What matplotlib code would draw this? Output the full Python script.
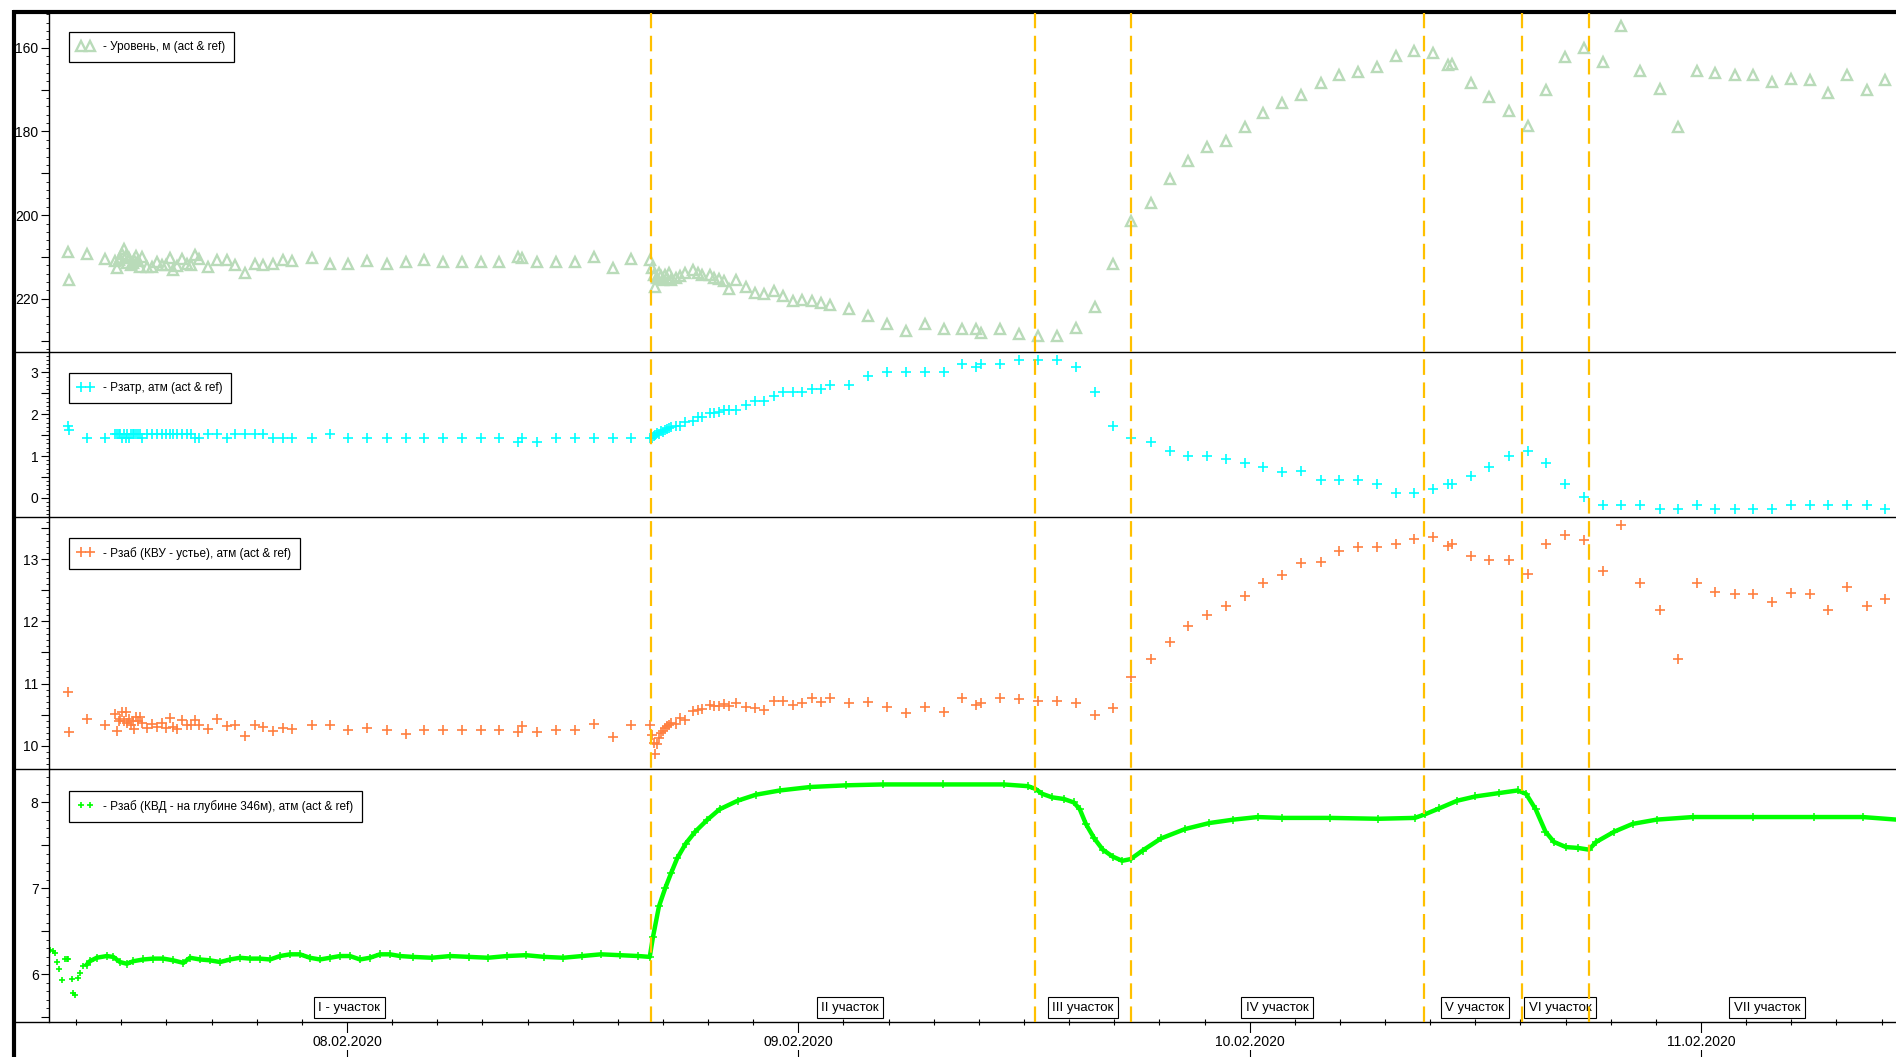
import numpy as np
import pandas as pd
import matplotlib
matplotlib.use('Agg')
import matplotlib.pyplot as plt
import matplotlib.dates as mdates
import matplotlib.transforms as mtransforms
from matplotlib.ticker import MultipleLocator, FuncFormatter
from matplotlib.lines import Line2D

plt.rcParams['font.family'] = ['Liberation Sans', 'DejaVu Sans']

t0 = pd.Timestamp('2020-02-07 00:00')

# measurement times, hours since 07.02.2020 00:00 (common for level / Pzatr / Pzab KVU)
meas_hours = [9.14, 9.20, 10.16, 11.15,
              11.66, 11.75, 11.85, 11.94, 12.04, 12.13, 12.23, 12.32, 12.42, 12.51, 12.61, 12.70, 12.80, 12.89, 12.98,
              13.10, 13.35, 13.61, 13.88, 14.15, 14.36, 14.59, 14.76, 14.94, 15.24, 15.48, 15.69,
              15.92, 16.13, 16.59, 17.07, 17.60, 18.04, 18.58, 19.11, 19.55, 20.08, 20.58, 21.06,
              22.12, 23.10, 24.07, 25.05, 26.11, 27.12, 28.10, 29.08, 30.14, 31.11,
              32.09, 33.10, 33.31, 34.13, 35.14, 36.12, 37.12, 38.12, 39.12,
              40.11, 40.20, 40.30, 40.40, 40.50, 40.60, 40.70, 40.80, 40.90, 41.00, 41.10, 41.22,
              41.48, 41.73, 41.99, 42.38, 42.64, 42.90, 43.28, 43.54, 43.80, 44.06, 44.31, 44.70,
              45.22, 45.68, 46.19, 46.71, 47.20, 47.72, 48.20, 48.72, 49.21, 49.70,
              50.70, 51.71, 52.71, 53.70, 54.72, 55.73, 56.73, 57.43, 57.72, 58.75,
              59.76, 60.73, 61.74, 62.74, 63.75, 64.73, 65.71,
              66.75, 67.74, 68.73, 69.71, 70.75, 71.74, 72.73, 73.74, 74.73, 75.77,
              76.76, 77.77, 78.78, 79.77, 80.75, 81.77, 82.55, 82.78, 83.77, 84.75,
              85.80, 86.80, 87.77, 88.76, 89.79, 90.78, 91.77, 92.76, 93.80, 94.78,
              95.77, 96.76, 97.80, 98.79, 99.77, 100.76, 101.79, 102.78, 103.77, 104.81, 105.80]

level = [208.8, 215.4, 209.4, 210.4,
         211.0, 212.6, 210.6, 210.2, 209.4, 208.2, 209.8, 211.4, 210.2, 211.8, 211.4, 210.6, 209.8, 211.0, 212.4,
         210.0, 212.4, 212.4, 211.2, 211.8, 211.8, 210.2, 213.0, 212.2, 210.4, 211.6, 211.8,
         209.6, 210.4, 212.4, 210.6, 210.6, 211.8, 213.8, 211.6, 212.0, 211.6, 210.8, 211.0,
         210.2, 211.6, 211.6, 211.0, 211.6, 211.1, 210.8, 211.1, 211.1, 211.1,
         211.1, 209.9, 210.2, 211.1, 211.1, 211.1, 209.9, 212.6, 210.5,
         210.6, 212.6, 214.2, 217.2, 215.0, 213.8, 214.6, 215.4, 214.2, 215.0, 213.8, 215.4,
         215.0, 214.6, 213.8, 213.0, 213.8, 214.2, 214.4, 214.9, 215.2, 215.8, 217.6, 215.4,
         217.2, 218.6, 218.8, 218.2, 219.4, 220.4, 220.2, 220.4, 221.0, 221.4,
         222.4, 224.2, 226.0, 227.6, 226.0, 227.2, 227.2, 227.2, 228.2, 227.2,
         228.4, 228.8, 228.8, 227.0, 222.0, 211.7, 201.4,
         197.0, 191.4, 187.0, 183.7, 182.2, 179.0, 175.6, 173.3, 171.2, 168.5,
         166.6, 165.8, 164.5, 161.9, 160.8, 161.3, 164.2, 164.0, 168.5, 171.7,
         175.0, 178.6, 170.1, 162.2, 160.1, 163.4, 154.9, 165.6, 169.8, 178.9,
         165.6, 166.1, 166.6, 166.6, 168.2, 167.4, 167.7, 170.9, 166.6, 170.1, 167.7]

p_zatr = [1.71, 1.62, 1.43, 1.43,
          1.53, 1.53, 1.53, 1.53, 1.43, 1.53, 1.43, 1.53, 1.43, 1.53, 1.53, 1.53, 1.53, 1.53, 1.53,
          1.43, 1.53, 1.53, 1.53, 1.53, 1.53, 1.53, 1.53, 1.53, 1.53, 1.53, 1.53,
          1.43, 1.43, 1.53, 1.53, 1.43, 1.53, 1.53, 1.53, 1.53, 1.43, 1.43, 1.43,
          1.43, 1.53, 1.43, 1.43, 1.43, 1.43, 1.43, 1.43, 1.43, 1.43,
          1.43, 1.33, 1.43, 1.33, 1.43, 1.43, 1.43, 1.43, 1.43,
          1.43, 1.43, 1.48, 1.50, 1.55, 1.53, 1.60, 1.58, 1.63, 1.65, 1.68, 1.70,
          1.72, 1.72, 1.81, 1.85, 1.93, 1.93, 2.03, 2.03, 2.05, 2.09, 2.11, 2.11,
          2.21, 2.31, 2.31, 2.43, 2.53, 2.53, 2.53, 2.61, 2.61, 2.71,
          2.71, 2.91, 3.02, 3.02, 3.02, 3.02, 3.21, 3.13, 3.21, 3.21,
          3.31, 3.31, 3.31, 3.13, 2.53, 1.72, 1.43,
          1.33, 1.12, 1.01, 1.01, 0.93, 0.83, 0.73, 0.62, 0.63, 0.43,
          0.43, 0.43, 0.33, 0.12, 0.12, 0.22, 0.33, 0.33, 0.51, 0.73,
          1.01, 1.12, 0.83, 0.33, 0.02, -0.17, -0.17, -0.17, -0.26, -0.26,
          -0.17, -0.26, -0.26, -0.26, -0.26, -0.17, -0.17, -0.17, -0.17, -0.17, -0.26]

p_zab_kvu = [10.87, 10.22, 10.43, 10.34,
             10.51, 10.24, 10.39, 10.43, 10.54, 10.39, 10.54, 10.36, 10.43, 10.34, 10.40, 10.27, 10.46, 10.40, 10.46,
             10.36, 10.29, 10.35, 10.30, 10.36, 10.29, 10.45, 10.30, 10.27, 10.41, 10.34, 10.34,
             10.41, 10.34, 10.27, 10.43, 10.32, 10.34, 10.15, 10.34, 10.30, 10.24, 10.29, 10.27,
             10.34, 10.34, 10.25, 10.29, 10.25, 10.19, 10.25, 10.25, 10.25, 10.25,
             10.25, 10.22, 10.32, 10.22, 10.25, 10.25, 10.35, 10.14, 10.33,
             10.33, 10.18, 10.05, 9.86, 10.02, 10.12, 10.20, 10.24, 10.28, 10.31, 10.34, 10.37,
             10.35, 10.45, 10.42, 10.56, 10.57, 10.59, 10.65, 10.64, 10.64, 10.67, 10.64, 10.69,
             10.63, 10.61, 10.57, 10.72, 10.72, 10.65, 10.68, 10.76, 10.71, 10.76,
             10.69, 10.71, 10.63, 10.53, 10.63, 10.55, 10.76, 10.65, 10.68, 10.76,
             10.75, 10.72, 10.72, 10.69, 10.50, 10.61, 11.10,
             11.39, 11.67, 11.92, 12.11, 12.25, 12.41, 12.62, 12.74, 12.94, 12.96,
             13.13, 13.20, 13.20, 13.24, 13.32, 13.36, 13.21, 13.25, 13.06, 12.99,
             12.99, 12.76, 13.24, 13.39, 13.31, 12.81, 13.55, 12.62, 12.18, 11.39,
             12.62, 12.47, 12.44, 12.44, 12.32, 12.46, 12.44, 12.18, 12.55, 12.25, 12.36]

# KVD gauge: scattered start, then continuous record
kvd_early_hours = [8.21, 8.35, 8.47, 8.60, 8.70, 8.83, 9.00, 9.09, 9.18, 9.36, 9.45, 9.54, 9.71, 9.80, 9.95]
kvd_early = [6.28, 6.27, 6.25, 6.14, 6.06, 5.93, 6.18, 6.18, 6.18, 5.94, 5.78, 5.76, 5.95, 6.01, 6.09]

kvd_hours = [10.16, 10.33, 10.69, 11.22, 11.57, 11.93, 12.29, 12.64, 13.17, 13.70,
             14.23, 14.76, 15.30, 15.65, 16.18, 16.71, 17.25, 17.78, 18.31, 18.84,
             19.37, 19.91, 20.44, 20.97, 21.50, 22.03, 22.56, 23.10, 23.63, 24.16,
             24.69, 25.22, 25.75, 26.29, 26.82, 27.5, 28.5, 29.5, 30.5, 31.5,
             32.5, 33.5, 34.5, 35.5, 36.5, 37.5, 38.5, 39.5, 40.10,
             40.27, 40.59, 40.92, 41.24, 41.56, 42.01, 42.52, 43.17, 43.81, 44.77,
             45.74, 47.02, 48.63, 50.56, 52.49, 55.70, 58.92, 60.21, 60.59, 60.98,
             61.49, 62.13, 62.65, 62.97, 63.29, 63.74, 64.19, 64.71, 65.22, 65.67,
             66.31, 67.28, 68.56, 69.85, 71.14, 72.42, 73.71, 76.28, 78.85, 80.78,
             81.30, 82.07, 83.03, 84.00, 85.28, 86.25, 86.70, 87.21, 87.73, 88.18,
             88.82, 89.46, 90.04, 90.43, 91.39, 92.36, 93.64, 95.57, 98.79, 102.00,
             104.60, 106.40]
kvd = [6.11, 6.15, 6.19, 6.21, 6.20, 6.14, 6.12, 6.15, 6.17, 6.18,
       6.18, 6.16, 6.13, 6.19, 6.17, 6.16, 6.14, 6.17, 6.19, 6.18,
       6.18, 6.17, 6.21, 6.23, 6.23, 6.19, 6.17, 6.19, 6.21, 6.21,
       6.17, 6.19, 6.23, 6.23, 6.21, 6.20, 6.19, 6.21, 6.20, 6.19,
       6.21, 6.22, 6.20, 6.19, 6.21, 6.23, 6.22, 6.21, 6.20,
       6.43, 6.79, 7.00, 7.18, 7.35, 7.52, 7.66, 7.80, 7.92, 8.02,
       8.09, 8.14, 8.18, 8.20, 8.21, 8.21, 8.21, 8.19, 8.16, 8.10,
       8.06, 8.04, 8.00, 7.92, 7.75, 7.58, 7.45, 7.37, 7.32, 7.34,
       7.44, 7.58, 7.69, 7.76, 7.80, 7.83, 7.82, 7.82, 7.81, 7.82,
       7.86, 7.93, 8.02, 8.07, 8.11, 8.14, 8.10, 7.92, 7.66, 7.54,
       7.48, 7.47, 7.45, 7.54, 7.66, 7.75, 7.80, 7.83, 7.83, 7.83,
       7.83, 7.80]

bounds_hours = [40.14, 60.58, 65.67, 81.27, 86.48, 90.04]
section_names = ['I - участок', 'II участок', 'III участок', 'IV участок',
                 'V участок', 'VI участок', 'VII участок']
section_hours = [24.13, 50.75, 63.14, 73.45, 83.98, 88.50, 99.50]

legend_labels = ['- Уровень, м (act & ref)',
                 '- Рзатр, атм (act & ref)',
                 '- Рзаб (КВУ - устье), атм (act & ref)',
                 '- Рзаб (КВД - на глубине 346м), атм (act & ref)']


def to_time(hours):
    return (t0 + pd.to_timedelta(np.asarray(hours, dtype=float), unit='h')).to_numpy()


c_level = '#b9dbb9'
c_zatr = '#00ffff'
c_kvu = '#ff7f40'
c_kvd = '#00ff00'
c_bound = '#ffc000'

W, H = 1896, 1057
fig = plt.figure(figsize=(W / 100, H / 100), dpi=100)
left_px = 49
panels_px = [(13, 352), (352, 517), (517, 769), (769, 1021.5)]
axes = []
for top, bot in panels_px:
    ax = fig.add_axes([left_px / W, 1 - bot / H, 1 - left_px / W, (bot - top) / H])
    axes.append(ax)
ax1, ax2, ax3, ax4 = axes

t_meas = to_time(meas_hours)
ax1.plot(t_meas, level, ls='none', marker='^', ms=7.5, mfc='none', mec=c_level, mew=1.7)
ax2.plot(t_meas, p_zatr, ls='none', marker='+', ms=7, color=c_zatr, mew=1.2)
ax3.plot(t_meas, p_zab_kvu, ls='none', marker='+', ms=7, color=c_kvu, mew=1.2)
ax4.plot(to_time(kvd_early_hours), kvd_early, ls='none', marker='+', ms=5, color=c_kvd, mew=1.2)
ax4.plot(to_time(kvd_hours), kvd, color=c_kvd, lw=3.2, marker='+', ms=6, mew=1.1)

ylims = [(232.7, 151.7), (-0.46, 3.49), (9.625, 13.68), (5.447, 8.39)]
steps = [(10, 20, 2), (0.5, 1, 0.1), (0.5, 1, 0.1), (0.5, 1, 0.1)]
xlim = to_time([8.154, 106.37])

for ax, yl, (maj, lab, mnr) in zip(axes, ylims, steps):
    ax.set_xlim(xlim)
    ax.set_ylim(yl)
    ax.yaxis.set_major_locator(MultipleLocator(maj))
    ax.yaxis.set_minor_locator(MultipleLocator(mnr))
    ax.yaxis.set_major_formatter(FuncFormatter(
        lambda v, p, lab=lab: f'{v:g}' if abs(v / lab - round(v / lab)) < 1e-6 else ''))
    ax.tick_params(axis='y', which='major', direction='out', length=6, width=0.8,
                   pad=1.5, labelsize=10)
    ax.tick_params(axis='y', which='minor', direction='out', length=2, width=0.6)
    for s in ['top', 'right', 'bottom']:
        ax.spines[s].set_visible(False)
    ax.spines['left'].set_linewidth(1.0)
    ax.set_facecolor('none')
    if ax is not ax4:
        ax.tick_params(axis='x', which='both', bottom=False, labelbottom=False)

ax4.xaxis.set_major_locator(mdates.DayLocator())
ax4.xaxis.set_major_formatter(mdates.DateFormatter('%d.%m.%Y'))
ax4.xaxis.set_minor_locator(MultipleLocator(0.1))
ax4.tick_params(axis='x', which='major', direction='out', length=26, width=0.8,
                pad=-16.5, labelsize=10)
ax4.tick_params(axis='x', which='minor', direction='inout', length=5, width=0.8)
for lbl in ax4.get_xticklabels():
    lbl.set_bbox(dict(facecolor='white', edgecolor='none', pad=1))

# frame and panel separators
frame_kw = dict(transform=fig.transFigure, color='black', solid_capstyle='butt')
fig.add_artist(Line2D([13 / W, 1], [1 - 12 / H, 1 - 12 / H], lw=3, **frame_kw))
fig.add_artist(Line2D([13.5 / W, 13.5 / W], [0, 1 - 10 / H], lw=3, **frame_kw))
for _, bot in panels_px:
    fig.add_artist(Line2D([13 / W, 1], [1 - bot / H, 1 - bot / H], lw=1.0, **frame_kw))

# section boundaries across all panels
trans = mtransforms.blended_transform_factory(ax4.transData, fig.transFigure)
for bx in mdates.date2num(to_time(bounds_hours)):
    fig.add_artist(Line2D([bx, bx], [1 - 1021.5 / H, 1 - 13 / H], transform=trans,
                          color=c_bound, lw=1.6, dashes=(7, 3.4)))

for name, sx in zip(section_names, to_time(section_hours)):
    ax4.text(sx, 5.61, name, ha='center', va='center', fontsize=9.5,
             bbox=dict(boxstyle='square,pad=0.35', facecolor='white', edgecolor='black', linewidth=0.8))

handles = [
    Line2D([], [], ls='none', marker='^', ms=7.5, mfc='none', mec=c_level, mew=1.7),
    Line2D([], [], ls='none', marker='+', ms=7, color=c_zatr, mew=1.2),
    Line2D([], [], ls='none', marker='+', ms=7, color=c_kvu, mew=1.2),
    Line2D([], [], ls='none', marker='+', ms=5, color=c_kvd, mew=1.2),
]
legend_tops = [32, 373, 538, 791]
for ax, h, lab, top in zip(axes, handles, legend_labels, legend_tops):
    leg = ax.legend([h], [lab], loc='upper left', bbox_to_anchor=(69 / W, 1 - top / H),
                    bbox_transform=fig.transFigure, borderaxespad=0, numpoints=2,
                    fontsize=8.5, handlelength=1.3, handleheight=1.0, handletextpad=0.8,
                    borderpad=0.75, fancybox=False, framealpha=1, edgecolor='black')
    leg.get_frame().set_linewidth(0.9)

fig.savefig('out.png', dpi=100)
